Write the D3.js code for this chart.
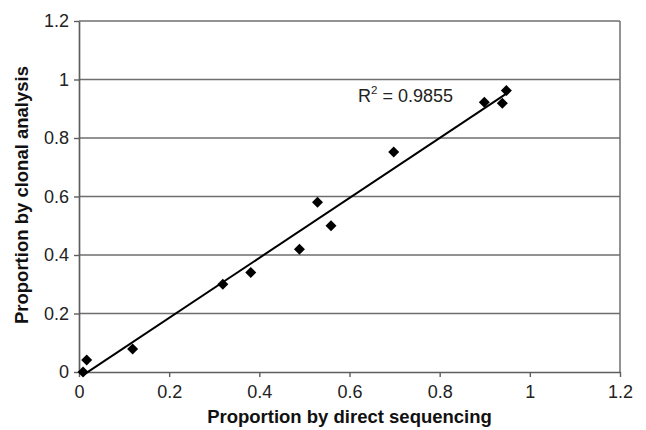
<!DOCTYPE html>
<html>
<head>
<meta charset="utf-8">
<script src="https://cdn.jsdelivr.net/npm/d3@7"></script>
<style>
body { margin: 0; background: #fff; }
text { font-family: "Liberation Sans", Arial, sans-serif; }
</style>
</head>
<body>
<svg width="646" height="430"></svg>
<script>
// values
var directSeq = [0.009, 0.017, 0.119, 0.319, 0.381, 0.489, 0.529, 0.559, 0.698, 0.899, 0.939, 0.948];
var clonal    = [0.0,   0.041, 0.079, 0.30,  0.34,  0.42,  0.58,  0.50,  0.752, 0.922, 0.919, 0.962];
var xTicks = [0, 0.2, 0.4, 0.6, 0.8, 1, 1.2];
var yTicks = [0, 0.2, 0.4, 0.6, 0.8, 1, 1.2];
var r2Label = '0.9855';

var points = directSeq.map(function(d, i) { return {x: d, y: clonal[i]}; });

var margin = {left: 79, top: 21, right: 26, bottom: 58};
var width = 646 - margin.left - margin.right;
var height = 430 - margin.top - margin.bottom;

var svg = d3.select('svg')
    .append('g')
    .attr('transform', 'translate(' + margin.left + ',' + margin.top + ')');

var scaleX = d3.scaleLinear().domain([0, 1.2]).range([0, width]);
var scaleY = d3.scaleLinear().domain([0, 1.2]).range([height, 0]);

// horizontal gridlines
svg.selectAll('.grid')
    .data(yTicks.slice(1))
    .enter()
    .append('line')
    .attr('x1', 0)
    .attr('x2', width)
    .attr('y1', function(d) { return scaleY(d); })
    .attr('y2', function(d) { return scaleY(d); })
    .attr('stroke', '#6e6e6e')
    .attr('stroke-width', 1.5);

// right border
svg.append('line')
    .attr('x1', width).attr('x2', width)
    .attr('y1', 0).attr('y2', height)
    .attr('stroke', '#6e6e6e')
    .attr('stroke-width', 1.5);

// axes
var xAxis = svg.append('g')
    .attr('transform', 'translate(0,' + height + ')')
    .call(d3.axisBottom(scaleX).tickValues(xTicks).tickSize(5).tickSizeOuter(0).tickFormat(d3.format('')));
var yAxis = svg.append('g')
    .call(d3.axisLeft(scaleY).tickValues(yTicks).tickSize(5).tickSizeOuter(0).tickFormat(d3.format('')));

[xAxis, yAxis].forEach(function(ax) {
    ax.select('.domain').attr('stroke', '#5e5e5e').attr('stroke-width', 1.7);
    ax.selectAll('.tick line').attr('stroke', '#5e5e5e').attr('stroke-width', 1.4);
    ax.selectAll('.tick text')
        .attr('font-size', 18)
        .attr('fill', '#222')
        .style('font-family', '"Liberation Sans", Arial, sans-serif');
});
xAxis.selectAll('.tick text').attr('y', 13).attr('dy', '0.71em');
yAxis.selectAll('.tick text').attr('x', -10);

// linear trendline
var mx = d3.mean(directSeq), my = d3.mean(clonal);
var sxy = d3.sum(points, function(p) { return (p.x - mx) * (p.y - my); });
var sxx = d3.sum(points, function(p) { return (p.x - mx) * (p.x - mx); });
var slope = sxy / sxx, intercept = my - slope * mx;
var xr = d3.extent(directSeq);

svg.append('line')
    .attr('x1', scaleX(xr[0]))
    .attr('y1', scaleY(intercept + slope * xr[0]))
    .attr('x2', scaleX(xr[1]))
    .attr('y2', scaleY(intercept + slope * xr[1]))
    .attr('stroke', '#000')
    .attr('stroke-width', 2);

// diamond markers
svg.selectAll('.pt')
    .data(points)
    .enter()
    .append('path')
    .attr('d', 'M0,-5.5L5.5,0L0,5.5L-5.5,0Z')
    .attr('transform', function(d) { return 'translate(' + scaleX(d.x) + ',' + scaleY(d.y) + ')'; })
    .attr('fill', '#000');

// R squared label
var r2 = svg.append('text')
    .attr('x', 279)
    .attr('y', 81)
    .attr('font-size', 18)
    .attr('fill', '#222');
r2.append('tspan').text('R');
r2.append('tspan').attr('font-size', 11.5).attr('dy', -8).text('2');
r2.append('tspan').attr('dy', 8).text(' = ' + r2Label);

// axis titles
svg.append('text')
    .attr('x', width / 2)
    .attr('y', height + 51)
    .attr('text-anchor', 'middle')
    .attr('font-size', 18.5)
    .attr('font-weight', 'bold')
    .attr('fill', '#111')
    .text('Proportion by direct sequencing');

svg.append('text')
    .attr('transform', 'rotate(270)')
    .attr('x', -174)
    .attr('y', -51)
    .attr('text-anchor', 'middle')
    .attr('font-size', 18.5)
    .attr('font-weight', 'bold')
    .attr('fill', '#111')
    .text('Proportion by clonal analysis');
</script>
</body>
</html>
